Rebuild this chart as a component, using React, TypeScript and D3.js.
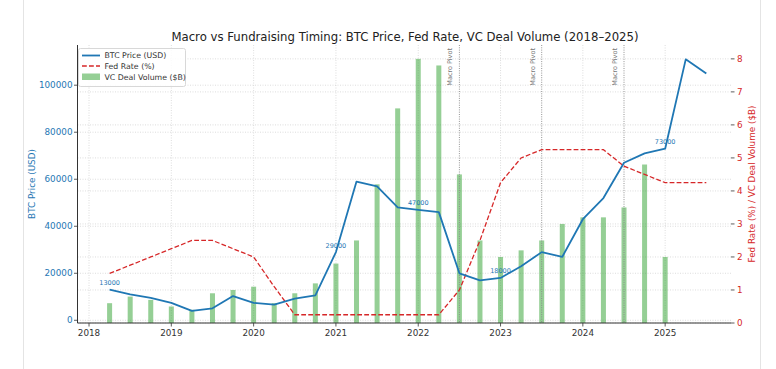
import React from "react";
import * as d3 from "d3";

// quarterly points (decimal years)
const dates = [
  2018.25, 2018.5, 2018.75, 2019.0, 2019.25, 2019.5, 2019.75, 2020.0, 2020.25, 2020.5,
  2020.75, 2021.0, 2021.25, 2021.5, 2021.75, 2022.0, 2022.25, 2022.5, 2022.75, 2023.0,
  2023.25, 2023.5, 2023.75, 2024.0, 2024.25, 2024.5, 2024.75, 2025.0, 2025.25, 2025.5,
];
const btcPrice = [
  13000, 11000, 9500, 7400, 4000, 5100, 10300, 7400, 6700, 9200,
  10600, 29000, 59000, 57000, 48000, 47000, 46000, 20000, 17000, 18000,
  23000, 29000, 27000, 43000, 52000, 67000, 71000, 73000, 111000, 105000,
];
const fedRate = [
  1.5, 1.75, 2.0, 2.25, 2.5, 2.5, 2.25, 2.0, 1.1, 0.25,
  0.25, 0.25, 0.25, 0.25, 0.25, 0.25, 0.25, 1.0, 2.5, 4.25,
  5.0, 5.25, 5.25, 5.25, 5.25, 4.75, 4.5, 4.25, 4.25, 4.25,
];
// VC deal volume only runs to 2025 Q1
const vcVolume = [
  0.6, 0.8, 0.7, 0.5, 0.4, 0.9, 1.0, 1.1, 0.6, 0.9,
  1.2, 1.8, 2.5, 4.2, 6.5, 8.0, 7.8, 4.5, 2.5, 2.0,
  2.2, 2.5, 3.0, 3.2, 3.2, 3.5, 4.8, 2.0,
];
const labelIdx = [0, 11, 15, 19, 27];
const pivots = [2022.5, 2023.5, 2024.5];
const years = [2018, 2019, 2020, 2021, 2022, 2023, 2024, 2025];
const btcTicks = [0, 20000, 40000, 60000, 80000, 100000];
const rateTicks = [0, 1, 2, 3, 4, 5, 6, 7, 8];

const W = 776, H = 369;
const left = 77.5, right = 731, top = 45, bottom = 323;
const font = "DejaVu Sans, sans-serif";
const blue = "#1f77b4", red = "#d62728", green = "#2ca02c";

const App = () => {
  const x = d3.scaleLinear().domain([2017.86, 2025.8]).range([left, right]);
  const yL = d3.scaleLinear().domain([-1150, 117100]).range([bottom, top]);
  const yR = d3.scaleLinear().domain([0, 8.42]).range([bottom, top]);

  const btcLine = d3.line<number>().x((_, i) => x(dates[i])).y((d) => yL(d));
  const fedLine = d3.line<number>().x((_, i) => x(dates[i])).y((d) => yR(d));
  const barW = 5;

  return (
    <svg width={W} height={H} style={{ position: "absolute", left: 0, top: 0, fontFamily: font }}>
      <rect x={0} y={0} width={W} height={H} fill="#fff" />
      <line x1={23.5} x2={23.5} y1={0} y2={H} stroke="#e4e4e4" />
      <line x1={760.5} x2={760.5} y1={0} y2={H} stroke="#e4e4e4" />

      <text x={405} y={41} textAnchor="middle" fontSize={11.7} fill="#222">
        Macro vs Fundraising Timing: BTC Price, Fed Rate, VC Deal Volume (2018–2025)
      </text>

      {/* grid */}
      <g stroke="#cfcfcf" strokeWidth={0.7} strokeDasharray="1,1.5">
        {years.map((yr) => (
          <line key={"gx" + yr} x1={x(yr)} x2={x(yr)} y1={top} y2={bottom} />
        ))}
        {btcTicks.map((t) => (
          <line key={"gl" + t} x1={left} x2={right} y1={yL(t)} y2={yL(t)} />
        ))}
        {rateTicks.map((t) => (
          <line key={"gr" + t} x1={left} x2={right} y1={yR(t)} y2={yR(t)} />
        ))}
      </g>

      {/* bars */}
      {vcVolume.map((v, i) => (
        <rect
          key={"b" + i}
          x={x(dates[i]) - barW / 2}
          y={yR(v)}
          width={barW}
          height={yR(0) - yR(v)}
          fill={green}
          fillOpacity={0.5}
        />
      ))}

      {/* pivots */}
      {pivots.map((p) => (
        <g key={"p" + p}>
          <line x1={x(p)} x2={x(p)} y1={top} y2={bottom} stroke="#888" strokeWidth={0.9} strokeDasharray="1,1.3" />
          <text
            transform={`translate(${x(p) - 7},${top + 3}) rotate(-90)`}
            textAnchor="end"
            fontSize={6.5}
            fill="#777"
          >
            Macro Pivot
          </text>
        </g>
      ))}

      <path d={fedLine(fedRate) || ""} fill="none" stroke={red} strokeWidth={1.3} strokeDasharray="4.8,2.2" />
      <path d={btcLine(btcPrice) || ""} fill="none" stroke={blue} strokeWidth={1.8} strokeLinejoin="round" />

      {labelIdx.map((i) => (
        <text key={"a" + i} x={x(dates[i])} y={yL(btcPrice[i]) - 4.5} textAnchor="middle" fontSize={6.5} fill={blue}>
          {btcPrice[i]}
        </text>
      ))}

      {/* axes */}
      <line x1={left} x2={left} y1={top} y2={bottom} stroke="#333" strokeWidth={1} />
      <line x1={left} x2={right} y1={bottom} y2={bottom} stroke="#333" strokeWidth={1} />
      {years.map((yr) => (
        <g key={"tx" + yr}>
          <line x1={x(yr)} x2={x(yr)} y1={bottom} y2={bottom + 3.5} stroke="#333" strokeWidth={0.8} />
          <text x={x(yr)} y={bottom + 13} textAnchor="middle" fontSize={8.8} fill="#333">
            {yr}
          </text>
        </g>
      ))}
      {btcTicks.map((t) => (
        <g key={"tl" + t}>
          <line x1={left - 3.5} x2={left} y1={yL(t)} y2={yL(t)} stroke="#333" strokeWidth={0.8} />
          <text x={left - 5} y={yL(t) + 3.1} textAnchor="end" fontSize={8.8} fill={blue}>
            {t}
          </text>
        </g>
      ))}
      {rateTicks.map((t) => (
        <g key={"tr" + t}>
          <line x1={right} x2={right + 3.5} y1={yR(t)} y2={yR(t)} stroke="#333" strokeWidth={0.8} />
          <text x={right + 6} y={yR(t) + 3.1} textAnchor="start" fontSize={8.8} fill={red}>
            {t}
          </text>
        </g>
      ))}
      <text transform={`translate(35,${(top + bottom) / 2}) rotate(-90)`} textAnchor="middle" fontSize={8.8} fill={blue}>
        BTC Price (USD)
      </text>
      <text transform={`translate(755,${(top + bottom) / 2}) rotate(-90)`} textAnchor="middle" fontSize={8.8} fill={red}>
        Fed Rate (%) / VC Deal Volume ($B)
      </text>

      {/* legend */}
      <g fontSize={7.8} fill="#333">
        <rect x={78.5} y={48.5} width={107} height={38} rx={2} fill="#fff" fillOpacity={0.85} stroke="#d8d8d8" />
        <line x1={82} x2={100} y1={55.5} y2={55.5} stroke={blue} strokeWidth={1.8} />
        <text x={104.5} y={58.3}>BTC Price (USD)</text>
        <line x1={82} x2={100} y1={66} y2={66} stroke={red} strokeWidth={1.3} strokeDasharray="4.8,2.2" />
        <text x={104.5} y={68.8}>Fed Rate (%)</text>
        <rect x={82} y={73.5} width={18} height={6.5} fill={green} fillOpacity={0.5} />
        <text x={104.5} y={79.5}>VC Deal Volume ($B)</text>
      </g>
    </svg>
  );
};

export default App;
